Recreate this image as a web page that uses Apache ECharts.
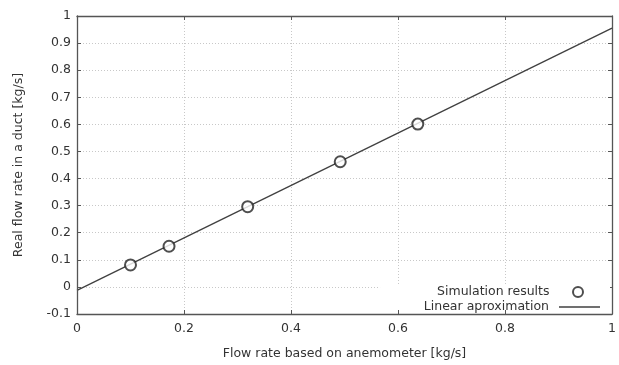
<!DOCTYPE html>
<html>
<head>
<meta charset="utf-8">
<script src="https://cdn.jsdelivr.net/npm/echarts@6/dist/echarts.min.js"></script>
<style>html,body{margin:0;padding:0;background:#fff;}#c{width:619px;height:365px;}</style>
</head>
<body>
<div id="c"></div>
<script>
const simX = [0.100, 0.172, 0.319, 0.492, 0.637];
const simY = [0.081, 0.150, 0.296, 0.462, 0.601];
const fitX = [0, 1];
const fitY = [-0.013, 0.955];
const xTicks = [0, 0.2, 0.4, 0.6, 0.8, 1];
const yTicks = [-0.1, 0, 0.1, 0.2, 0.3, 0.4, 0.5, 0.6, 0.7, 0.8, 0.9, 1];
const simName = 'Simulation results';
const fitName = 'Linear aproximation';
const xName = 'Flow rate based on anemometer [kg/s]';
const yName = 'Real flow rate in a duct [kg/s]';

const FONT = 'DejaVu Sans';
const FS = 12.5;
const TXT = '#333';
const AX = '#555';
const fmt = v => String(Math.round(v * 10) / 10);
const grid = { show: true, lineStyle: { color: '#c8c8c8', type: [1, 2], width: 1 } };

const chart = echarts.init(document.getElementById('c'));
const axisCommon = {
  axisLine: { show: true, onZero: false, lineStyle: { color: AX, width: 1.3 } },
  axisTick: { show: true, inside: true, length: 4, lineStyle: { color: AX } }
};
chart.setOption({
  animation: false,
  backgroundColor: '#fff',
  textStyle: { fontFamily: FONT },
  grid: { left: 77, right: 3, top: 16, bottom: 46 },
  xAxis: [{
    type: 'value', min: xTicks[0], max: xTicks[xTicks.length - 1], interval: 0.2,
    position: 'bottom', z: 10,
    name: xName, nameLocation: 'middle', nameGap: 33,
    nameTextStyle: { color: TXT, fontSize: FS, fontFamily: FONT },
    ...axisCommon,
    axisLabel: { color: TXT, fontSize: FS, margin: 8, formatter: fmt, fontFamily: FONT, showMaxLabel: true },
    splitLine: { show: false }
  }, {
    type: 'value', min: xTicks[0], max: xTicks[xTicks.length - 1], interval: 0.2,
    position: 'top', z: 1,
    ...axisCommon,
    axisLabel: { show: false },
    splitLine: grid
  }],
  yAxis: [{
    type: 'value', min: yTicks[0], max: yTicks[yTicks.length - 1], interval: 0.1,
    position: 'left', z: 10,
    name: yName, nameLocation: 'middle', nameGap: 52,
    nameTextStyle: { color: TXT, fontSize: FS, fontFamily: FONT },
    ...axisCommon,
    axisLabel: { color: TXT, fontSize: FS, margin: 6, formatter: fmt, fontFamily: FONT },
    splitLine: { show: false }
  }, {
    type: 'value', min: yTicks[0], max: yTicks[yTicks.length - 1], interval: 0.1,
    position: 'right', z: 1,
    ...axisCommon,
    axisLabel: { show: false },
    splitLine: grid
  }],
  legend: [{
    data: [{ name: simName, icon: 'emptyCircle', itemStyle: { color: '#222', borderColor: '#222', borderWidth: 1.2 } }],
    orient: 'vertical', align: 'right', right: 9, top: 284, z: 5,
    itemWidth: 41, itemHeight: 10,
    padding: [1, 26, 1, 57],
    backgroundColor: '#fff',
    textStyle: { color: TXT, fontSize: FS, fontFamily: FONT, lineHeight: 14, padding: [0, 3, 0, 0] }
  }, {
    data: [{ name: fitName, icon: 'rect', itemStyle: { color: '#404040' } }],
    orient: 'vertical', align: 'right', right: 9, top: 299, z: 5,
    itemWidth: 41, itemHeight: 1.3,
    padding: [1, 10, 6, 42],
    backgroundColor: '#fff',
    textStyle: { color: TXT, fontSize: FS, fontFamily: FONT, lineHeight: 14, padding: [0, 5, 0, 0] }
  }],
  series: [{
    name: fitName, type: 'line',
    data: fitX.map((x, i) => [x, fitY[i]]),
    showSymbol: false, symbol: 'none',
    lineStyle: { color: '#404040', width: 1.3 },
    itemStyle: { color: '#404040' },
    z: 3
  }, {
    name: simName, type: 'scatter',
    data: simX.map((x, i) => [x, simY[i]]),
    symbol: 'emptyCircle', symbolSize: 11,
    itemStyle: { color: '#222', borderWidth: 1.2 },
    z: 4
  }]
});
</script>
</body>
</html>
